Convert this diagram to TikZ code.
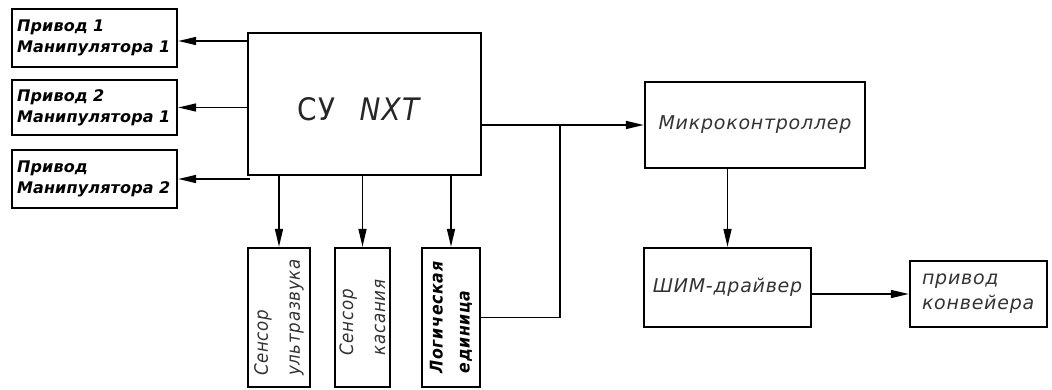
\documentclass[tikz,border=0pt]{standalone}
\usepackage{fontspec}
\setmainfont{DejaVu Sans}
\newfontfamily\gostfont{DejaVu Sans}[LetterSpace=1]
\newfontfamily\gostlight{DejaVu Sans}[LetterSpace=4]
\newfontfamily\gostnarrow{DejaVu Sans Condensed}[LetterSpace=4]
\usetikzlibrary{positioning}
\usetikzlibrary{arrows.meta}

\begin{document}
\begin{tikzpicture}[
    x=1pt, y=-1pt,
    blockbox/.style={draw, line width=2.4pt, inner sep=0pt},
    signal/.style={line width=1.5pt, -{Triangle[length=18pt,width=8pt]}},
    wire/.style={line width=1.5pt},
    boldlabel/.style={font=\gostfont\bfseries\itshape\fontsize{16}{21}\selectfont, align=left},
    lightlabel/.style={font=\gostlight\itshape\fontsize{19}{25}\selectfont, text=black!80, align=left},
    sidelabel/.style={rotate=90, font=\gostnarrow\itshape\fontsize{18.5}{32}\selectfont, text=black!80, align=left}
]
    \useasboundingbox (0,0) rectangle (1052,390);

    % left drives
    \node[blockbox, boldlabel, inner xsep=5pt, text width=155pt, minimum height=58pt] (act1) at (94.5,38) {Привод 1\\Манипулятора 1};
    \node[blockbox, boldlabel, inner xsep=5pt, text width=155pt, minimum height=55pt] (act2) at (94.5,107.5) {Привод 2\\Манипулятора 1};
    \node[blockbox, boldlabel, inner xsep=5pt, text width=155pt, minimum height=58pt] (act3) at (94.5,179) {Привод\\Манипулятора 2};

    % controller
    \node[blockbox, minimum width=233pt, minimum height=142pt] (nxt) at (364.5,104) {};
    \node[font=\gostnarrow\fontsize{31}{33}\selectfont, text=black!85] (nxttxt) at (358.5,109) {СУ\hspace{24pt}{\itshape NXT}};

    % sensors
    \node[blockbox, minimum width=62pt, minimum height=139pt] (ultra) at (279,317.5) {};
    \node[sidelabel] (ultratxt) at (ultra) {Сенсор\\ультразвука};
    \node[blockbox, minimum width=55pt, minimum height=139pt] (touch) at (362.5,317.5) {};
    \node[sidelabel] (touchtxt) at (touch) {Сенсор\\касания};
    \node[blockbox, minimum width=58pt, minimum height=139pt] (logic) at (451,317.5) {};
    \node[sidelabel, font=\gostnarrow\bfseries\itshape\fontsize{17.5}{27}\selectfont, text=black] (logictxt) at (logic) {Логическая\\единица};

    % right chain
    \node[blockbox, lightlabel, minimum width=220pt, minimum height=86pt] (mcu) at (755,125) {Микроконтроллер};
    \node[blockbox, lightlabel, minimum width=167pt, minimum height=79pt] (pwm) at (727.5,287.5) {ШИМ-драйвер};
    \node[blockbox, lightlabel, inner xsep=12pt, text width=113pt, minimum height=66pt] (conv) at (978.5,294) {привод\\конвейера};

    \coordinate (tap1) at ([yshift=-3pt]act1.east);
    \coordinate (tap3) at (250,179);
    \coordinate (join) at (560,125);

    \draw[signal] (nxt.west |- tap1) -- (tap1);
    \draw[signal] (nxt.west |- act2.east) -- (act2.east);
    \draw[signal] (tap3) -- (act3.east);

    \draw[signal] (ultra.north |- nxt.south) -- (ultra.north);
    \draw[signal] (touch.north |- nxt.south) -- (touch.north);
    \draw[signal] (logic.north |- nxt.south) -- (logic.north);

    \draw[signal] (nxt.east |- mcu.west) -- (mcu.west);
    \draw[wire] (logic.east) -- (logic.east -| join);
    \draw[line width=2.4pt] (logic.east -| join) -- (join);

    \draw[signal] (mcu.south -| pwm.north) -- (pwm.north);
    \draw[signal] (pwm.east |- conv.west) -- (conv.west);

\end{tikzpicture}
\end{document}
